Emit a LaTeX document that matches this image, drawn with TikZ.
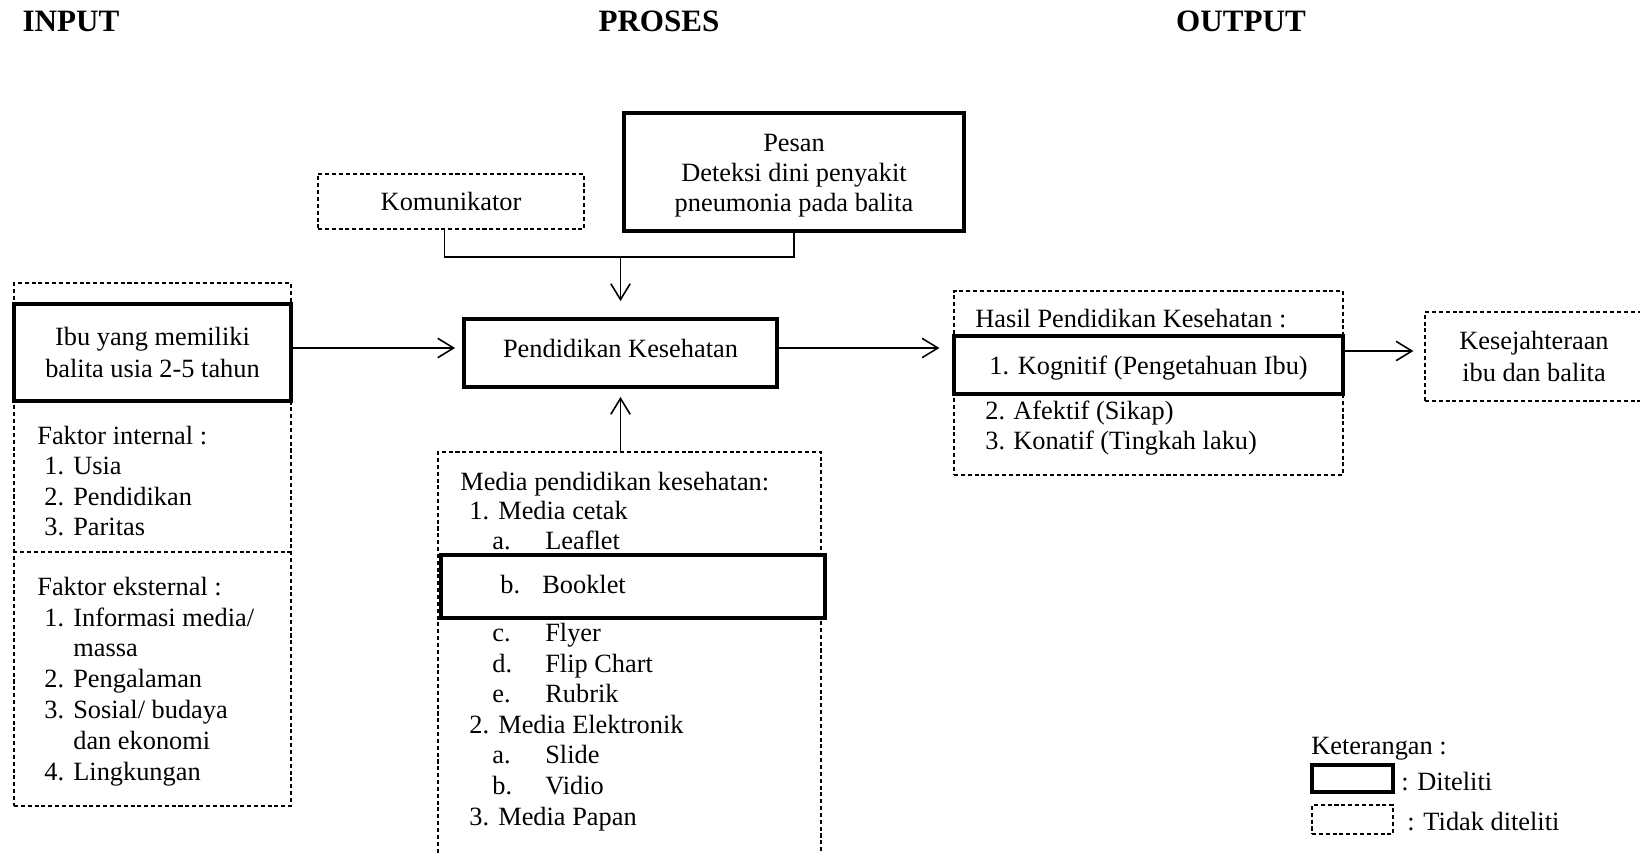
\documentclass[tikz,border=0pt]{standalone}
\usepackage{fontspec}
\setmainfont{Liberation Serif}
\usetikzlibrary{arrows.meta,calc}
\newcommand\mylab[2]{\makebox[#1][l]{#2}}
\tikzset{
  txt/.style={font=\fontsize{15}{17.4}\selectfont, inner sep=0pt, anchor=base west},
  ctxt/.style={font=\fontsize{15}{17.4}\selectfont, inner sep=0pt, align=center},
  ttl/.style={font=\fontsize{17.7}{20}\selectfont\bfseries, inner sep=0pt, anchor=base},
  thickbox/.style={draw, line width=2.2pt, rectangle, inner sep=0pt, align=center,
    font=\fontsize{15}{17.4}\selectfont},
  dashbox/.style={draw, line width=0.7pt, dash pattern=on 2.3pt off 1.6pt, rectangle,
    inner sep=0pt, align=center, font=\fontsize{15}{17.4}\selectfont},
  dashline/.style={line width=0.7pt, dash pattern=on 2.3pt off 1.6pt},
  conn/.style={line width=0.9pt},
  arr/.style={line width=0.9pt, -{Straight Barb[length=9pt,width=11pt]}},
}
\begin{document}
\begin{tikzpicture}[x=0.02cm, y=-0.02cm]
\clip (0,0) rectangle (1640,853);
\fill[white] (0,0) rectangle (1640,853);

% titles
\node[ttl] (tin) at (71,31) {INPUT};
\node[ttl] (tpr) at (659,31) {PROSES};
\node[ttl] (tout) at (1241,31) {OUTPUT};

% input column
\node[dashbox, minimum width=5.54cm, minimum height=10.46cm] (outer) at (152.5,544.5) {};
\node[thickbox, fill=white, minimum width=5.54cm, minimum height=1.94cm, font=\fontsize{15}{18}\selectfont] (ibu) at (152.5,352.5)
  {Ibu yang memiliki\\balita usia 2-5 tahun};
\coordinate (sep) at (0,552);
\draw[dashline] (outer.west |- sep) -- (outer.east |- sep);

\node[txt] (fi) at (37,444) {Faktor internal :};
\node[txt] (fi1) at (44,474.5) {\mylab{0.58cm}{1.}Usia};
\node[txt] (fi2) at (44,505) {\mylab{0.58cm}{2.}Pendidikan};
\node[txt] (fi3) at (44,535.5) {\mylab{0.58cm}{3.}Paritas};

\node[txt] (fe) at (37,595) {Faktor eksternal :};
\node[txt] (fe1) at (44,626) {\mylab{0.58cm}{1.}Informasi media/};
\node[txt] (fe1b) at (44,656.5) {\mylab{0.58cm}{}massa};
\node[txt] (fe2) at (44,687.5) {\mylab{0.58cm}{2.}Pengalaman};
\node[txt] (fe3) at (44,718.5) {\mylab{0.58cm}{3.}Sosial/ budaya};
\node[txt] (fe3b) at (44,749) {\mylab{0.58cm}{}dan ekonomi};
\node[txt] (fe4) at (44,780) {\mylab{0.58cm}{4.}Lingkungan};

% process column
\node[dashbox, minimum width=5.32cm, minimum height=1.1cm] (komu) at (451,201.5) {Komunikator};
\node[thickbox, minimum width=6.8cm, minimum height=2.36cm] (pesan) at (794,172) {};
\node[ctxt, font=\fontsize{15}{17}\selectfont] (pesantxt) at (794,176)
  {Pesan\\Deteksi dini penyakit\\pneumonia pada balita};
\node[thickbox, minimum width=6.26cm, minimum height=1.36cm] (pend) at (620.5,353) {};
\node[ctxt] (pendtxt) at (620.5,348) {Pendidikan Kesehatan};

\node[dashbox, minimum width=7.66cm, minimum height=8.96cm] (media) at (629.5,676) {};
\node[thickbox, fill=white, minimum width=7.68cm, minimum height=1.26cm] (book) at (633,586.5) {};
\node[txt] (booktxt) at (500,593) {\mylab{0.84cm}{b.}Booklet};

\node[txt] (m0) at (460,490) {Media pendidikan kesehatan:};
\node[txt] (m1) at (469,519) {\mylab{0.58cm}{1.}Media cetak};
\node[txt] (m1a) at (492,549) {\mylab{1.06cm}{a.}Leaflet};
\node[txt] (m1c) at (492,641) {\mylab{1.06cm}{c.}Flyer};
\node[txt] (m1d) at (492,672) {\mylab{1.06cm}{d.}Flip Chart};
\node[txt] (m1e) at (492,702) {\mylab{1.06cm}{e.}Rubrik};
\node[txt] (m2) at (469,733) {\mylab{0.58cm}{2.}Media Elektronik};
\node[txt] (m2a) at (492,763) {\mylab{1.06cm}{a.}Slide};
\node[txt] (m2b) at (492,794) {\mylab{1.06cm}{b.}Vidio};
\node[txt] (m3) at (469,825) {\mylab{0.58cm}{3.}Media Papan};

% output column
\node[dashbox, minimum width=7.78cm, minimum height=3.68cm] (hasil) at (1148.5,383) {};
\node[thickbox, fill=white, minimum width=7.78cm, minimum height=1.16cm] (kog) at (1148.5,365) {};
\node[ctxt] (kogtxt) at (1148.5,368) {1. Kognitif (Pengetahuan Ibu)};
\node[txt] (h0) at (975,327) {Hasil Pendidikan Kesehatan :};
\node[txt] (h2) at (985,419) {\mylab{0.56cm}{2.}Afektif (Sikap)};
\node[txt] (h3) at (985,449) {\mylab{0.56cm}{3.}Konatif (Tingkah laku)};

\node[dashbox, minimum width=4.36cm, minimum height=1.78cm, font=\fontsize{15}{18}\selectfont] (kesej) at (1534,356.5)
  {Kesejahteraan\\ibu dan balita};

% connectors
\coordinate (jy) at (0,257);
\coordinate (ay) at (0,348);
\coordinate (by) at (0,351);
\draw[conn] ([xshift=-0.13cm]komu.south) -- ([xshift=-0.13cm]komu.south |- jy) -- (pesan.south |- jy) -- (pesan.south);
\draw[arr, shorten >=0.32cm] (pend.north |- jy) -- (pend.north);
\draw[arr, shorten >=0.16cm] (pend.south |- media.north) -- (pend.south);
\draw[arr, shorten >=0.14cm] (ibu.east |- ay) -- (pend.west |- ay);
\draw[arr, shorten >=0.28cm] (pend.east |- ay) -- (hasil.west |- ay);
\draw[arr, shorten >=0.22cm] (kog.east |- by) -- (kesej.west |- by);

% legend
\node[txt] (ket) at (1311,754) {Keterangan :};
\node[thickbox, minimum width=1.62cm, minimum height=0.54cm] (lg1) at (1352.5,778.5) {};
\node[txt] (lg1t) at (1401,790) {: Diteliti};
\node[dashbox, minimum width=1.62cm, minimum height=0.58cm] (lg2) at (1352.5,819.5) {};
\node[txt] (lg2t) at (1407,830) {: Tidak diteliti};
\end{tikzpicture}
\end{document}
